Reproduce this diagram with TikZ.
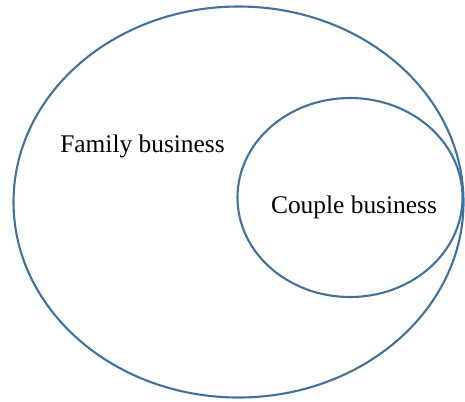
\documentclass[tikz,border=0pt]{standalone}
\usepackage{fontspec}
\setmainfont{Liberation Serif}
\usepackage{tikz}
\usetikzlibrary{shapes.geometric}

\definecolor{setblue}{RGB}{65,113,156}

\begin{document}
\begin{tikzpicture}[x=1bp, y=-1bp, set/.style={ellipse,draw=setblue,line width=2.1bp,inner sep=0pt}, label/.style={anchor=base,inner sep=0pt,font=\fontsize{25.5}{30}\selectfont}]
    \useasboundingbox (0,0) rectangle (465,401);
    \node[set, minimum width=450bp, minimum height=391bp] (family) at (238.5, 202) {};
    \node[set, minimum width=225bp, minimum height=199bp] (couple) at (350, 197.5) {};

    \node[label] (F) at (142.5, 152) {Family business};
    \node[label] (C) at (354, 213) {Couple business};
\end{tikzpicture}
\end{document}
